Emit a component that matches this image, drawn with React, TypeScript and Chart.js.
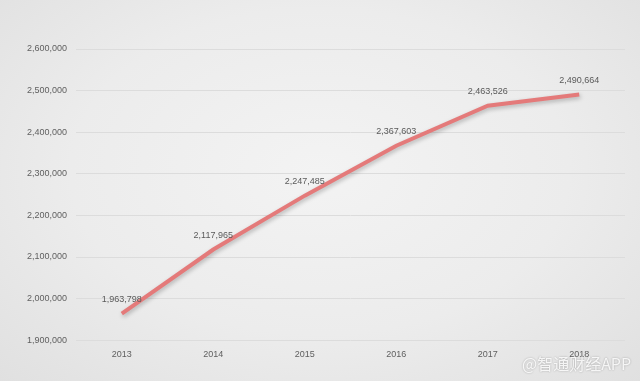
import React, { useEffect, useRef } from "react";
import { Chart, registerables } from "chart.js";

Chart.register(...registerables);

const years = ["2013", "2014", "2015", "2016", "2017", "2018"];
const values = [1963798, 2117965, 2247485, 2367603, 2463526, 2490664];
const yMin = 1900000;
const yMax = 2600000;
const yStep = 100000;

const fmt = (v: number) => v.toLocaleString("en-US");
const FONT = "'Liberation Sans', Arial, sans-serif";

const shadowPlugin = {
  id: "lineShadow",
  beforeDatasetDraw(chart: any) {
    const ctx = chart.ctx;
    ctx.save();
    ctx.shadowColor = "rgba(0,0,0,0.25)";
    ctx.shadowBlur = 4;
    ctx.shadowOffsetX = 1;
    ctx.shadowOffsetY = 2;
  },
  afterDatasetDraw(chart: any) {
    chart.ctx.restore();
  },
};

const labelPlugin = {
  id: "pointLabels",
  afterDatasetsDraw(chart: any) {
    const ctx = chart.ctx;
    const meta = chart.getDatasetMeta(0);
    ctx.save();
    ctx.font = "9px " + FONT;
    ctx.fillStyle = "#5a5a5a";
    ctx.textAlign = "center";
    ctx.textBaseline = "middle";
    meta.data.forEach((pt: any, i: number) => {
      ctx.fillText(fmt(values[i]), pt.x, pt.y - 14);
    });
    ctx.restore();
  },
};

export default function App() {
  const ref = useRef<HTMLCanvasElement>(null);
  useEffect(() => {
    if (!ref.current) return;
    const chart = new Chart(ref.current, {
      type: "line",
      data: {
        labels: years,
        datasets: [
          {
            data: values,
            borderColor: "#e47a7a",
            borderWidth: 4,
            pointRadius: 0,
            tension: 0,
            fill: false,
          },
        ],
      },
      options: {
        animation: false,
        responsive: false,
        layout: { padding: { top: 49, right: 15, bottom: 12, left: 18 } },
        plugins: { legend: { display: false }, tooltip: { enabled: false } },
        scales: {
          x: {
            offset: true,
            grid: { display: false, drawTicks: false },
            border: { display: false },
            ticks: {
              color: "#5f5f5f",
              font: { size: 9, family: FONT },
              padding: 9,
            },
          },
          y: {
            min: yMin,
            max: yMax,
            ticks: {
              stepSize: yStep,
              color: "#5f5f5f",
              font: { size: 9, family: FONT },
              padding: 9,
              callback: (v: any) => fmt(Number(v)),
            },
            grid: { color: "#dcdcdc", drawTicks: false, lineWidth: 1 },
            border: { display: false },
          },
        },
      },
      plugins: [shadowPlugin, labelPlugin],
    });
    return () => chart.destroy();
  }, []);

  return (
    <div
      style={{
        position: "fixed",
        left: 0,
        top: 0,
        width: 640,
        height: 381,
        background: "radial-gradient(ellipse at 50% 45%, #f3f3f3 0%, #ececec 55%, #e0e0e0 100%)",
        overflow: "hidden",
      }}
    >
      <canvas ref={ref} width={640} height={381} style={{ display: "block" }} />
      <div
        style={{
          position: "absolute",
          left: 522,
          top: 353,
          fontSize: 16,
          fontFamily: "'Noto Sans CJK SC', sans-serif",
          color: "rgba(255,255,255,0.85)",
          textShadow: "0 0 2px rgba(0,0,0,0.3)",
          lineHeight: "20px",
          whiteSpace: "nowrap",
        }}
      >
        @智通财经APP
      </div>
    </div>
  );
}
